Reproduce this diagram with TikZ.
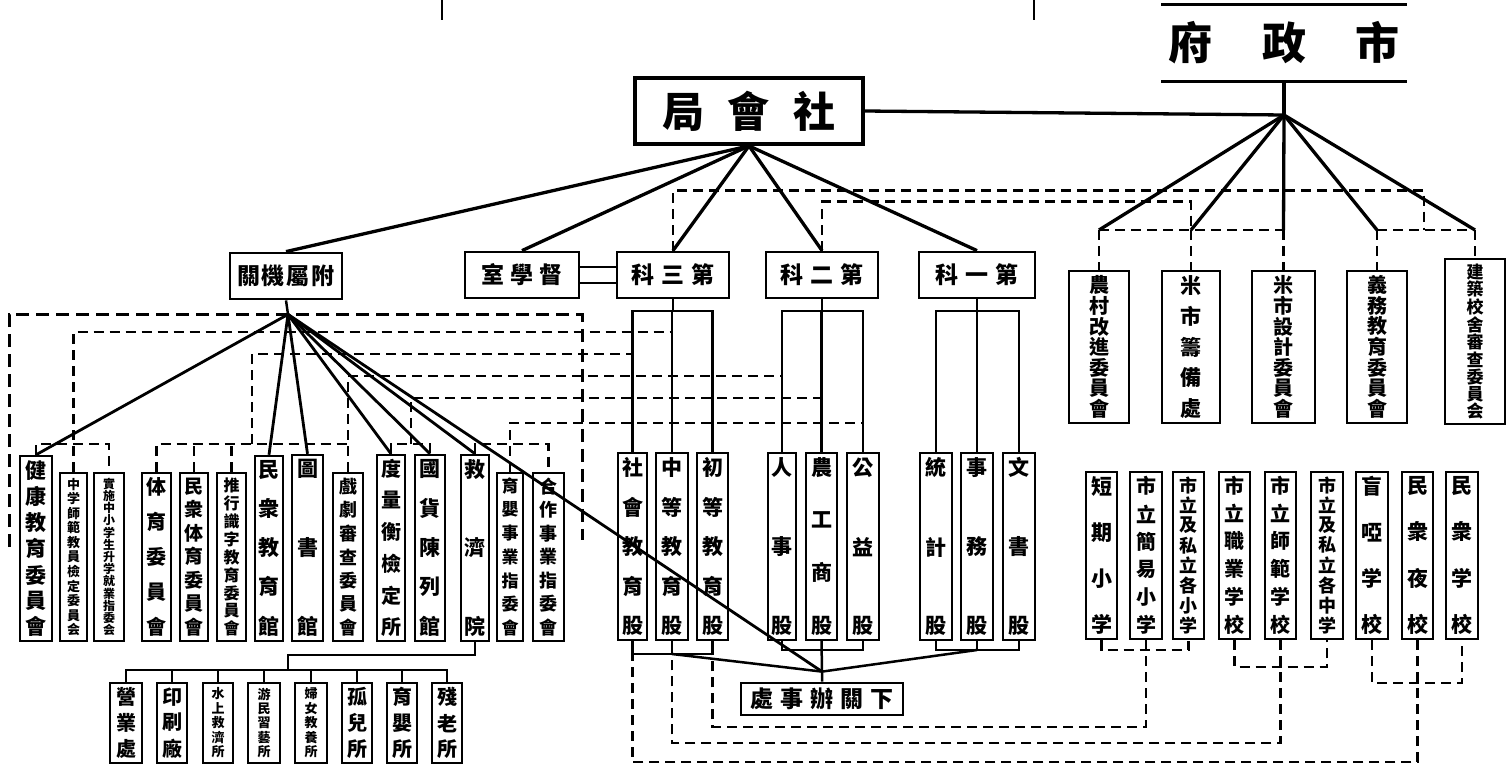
\documentclass[tikz,border=0pt]{standalone}
\usepackage{fontspec}
\setmainfont{Noto Sans CJK TC}
\ExplSyntaxOn
\seq_new:N \l_rk_seq
\NewDocumentCommand \vt { m m }
 {
  \seq_clear:N \l_rk_seq
  \tl_map_inline:nn {#2} { \seq_put_right:Nn \l_rk_seq { \hbox_to_wd:nn {0pt} { \hss ##1 \hss } } }
  \vbox_to_ht:nn {#1} { \offinterlineskip \seq_use:Nn \l_rk_seq { \vfill } }
 }
\NewDocumentCommand \rkspaced { m m }
 {
  \seq_clear:N \l_rk_seq
  \tl_map_inline:nn {#2} { \seq_put_right:Nn \l_rk_seq { ##1 } }
  \seq_use:Nn \l_rk_seq { \skip_horizontal:n {#1} }
 }
\ExplSyntaxOff
\tikzset{
 fan/.style={line width=3.3pt},
 fantwo/.style={line width=2.8pt},
 tree/.style={line width=2.5pt},
 thinline/.style={line width=1.8pt},
 dsh/.style={line width=2.3pt, dash pattern=on 10pt off 6pt},
 bdsh/.style={line width=3pt, dash pattern=on 13pt off 7pt},
 vb/.style={draw, line width=2.4pt, inner sep=0pt, font=\bfseries},
 hb/.style={draw, line width=2.8pt, inner sep=0pt, font=\bfseries},
}
\newcommand\vbx[7]{\node[vb, minimum width={(#4-#2)*1pt}, minimum height={(#5-#3)*1pt}] (#1) at ({(#2+#4)/2},{(#3+#5)/2}) {\fontsize{#6}{#6}\selectfont\vt{#5pt-#3pt-11pt}{#7}};}
\begin{document}
\begin{tikzpicture}[x=1pt,y=-1pt]
\fill[white] (0,0) rectangle (1509,771);
\useasboundingbox (0,0) rectangle (1509,771);

% ---- horizontal boxes
\node[hb, draw=none, minimum width=243pt, minimum height=74pt] (szf) at (1284,43) {\fontsize{44}{44}\selectfont\rkspaced{50pt}{府政市}};
\node[hb, line width=3.8pt, minimum width=228pt, minimum height=66pt] (shj) at (749,111) {\fontsize{42}{42}\selectfont\rkspaced{24pt}{局會社}};
\node[hb, minimum width=112pt, minimum height=46pt] (fs) at (286,276) {\fontsize{23}{23}\selectfont\rkspaced{2pt}{關機屬附}};
\node[hb, minimum width=114pt, minimum height=46pt] (dx) at (522,275) {\fontsize{23}{23}\selectfont\rkspaced{6pt}{室學督}};
\node[hb, minimum width=112pt, minimum height=46pt] (k3) at (673,275) {\fontsize{23}{23}\selectfont\rkspaced{7pt}{科三第}};
\node[hb, minimum width=112pt, minimum height=46pt] (k2) at (822,275) {\fontsize{23}{23}\selectfont\rkspaced{7pt}{科二第}};
\node[hb, minimum width=116pt, minimum height=46pt] (k1) at (977,275) {\fontsize{23}{23}\selectfont\rkspaced{7pt}{科一第}};
\node[hb, minimum width=162pt, minimum height=32pt] (xg) at (822,699) {\fontsize{23}{23}\selectfont\rkspaced{7pt}{處事辦關下}};

% ---- city government boxes
\vbx{r1}{1069}{271}{1129}{423}{20}{農村改進委員會}
\vbx{r2}{1162}{271}{1220}{423}{21}{米市籌備處}
\vbx{r3}{1252}{271}{1315}{423}{20}{米市設計委員會}
\vbx{r4}{1347}{271}{1407}{423}{20}{義務教育委員會}
\vbx{r5}{1445}{259}{1505}{424}{17}{建築校舍審查委員会}

% ---- schools
\vbx{s1}{1086}{472}{1117}{639}{21}{短期小学}
\vbx{s2}{1130}{472}{1162}{639}{20}{市立簡易小学}
\vbx{s3}{1173}{472}{1204}{639}{18}{市立及私立各小学}
\vbx{s4}{1219}{472}{1250}{639}{20}{市立職業学校}
\vbx{s5}{1265}{472}{1296}{639}{20}{市立師範学校}
\vbx{s6}{1311}{472}{1343}{639}{18}{市立及私立各中学}
\vbx{s7}{1356}{472}{1388}{639}{21}{盲啞学校}
\vbx{s8}{1402}{472}{1433}{639}{21}{民衆夜校}
\vbx{s9}{1446}{472}{1478}{639}{21}{民衆学校}

% ---- sections
\vbx{g1}{618}{453}{647}{640}{21}{社會教育股}
\vbx{g2}{656}{453}{688}{640}{21}{中等教育股}
\vbx{g3}{697}{453}{728}{640}{21}{初等教育股}
\vbx{g4}{768}{453}{796}{640}{21}{人事股}
\vbx{g5}{806}{453}{837}{640}{21}{農工商股}
\vbx{g6}{847}{453}{879}{640}{21}{公益股}
\vbx{g7}{920}{453}{952}{640}{21}{統計股}
\vbx{g8}{961}{453}{993}{640}{21}{事務股}
\vbx{g9}{1003}{453}{1035}{640}{21}{文書股}

% ---- affiliated agencies
\vbx{a1}{20}{456}{52}{641}{21}{健康教育委員會}
\vbx{a2}{60}{473}{87}{641}{13}{中学師範教員檢定委員会}
\vbx{a3}{94}{473}{124}{641}{12}{實施中小学生升学就業指委会}
\vbx{a4}{142}{473}{171}{641}{20}{体育委員會}
\vbx{a5}{180}{473}{208}{641}{19}{民衆体育委員會}
\vbx{a6}{217}{473}{246}{641}{16}{推行識字教育委員會}
\vbx{a7}{255}{456}{283}{641}{21}{民衆教育館}
\vbx{a8}{292}{455}{323}{641}{21}{圖書館}
\vbx{a9}{333}{473}{363}{641}{18}{戲劇審查委員會}
\vbx{a10}{377}{455}{405}{641}{20}{度量衡檢定所}
\vbx{a11}{415}{455}{445}{641}{21}{國貨陳列館}
\vbx{a12}{461}{455}{489}{641}{21}{救濟院}
\vbx{a13}{497}{473}{523}{641}{17}{育嬰事業指委會}
\vbx{a14}{533}{473}{564}{641}{18}{合作事業指委會}

% ---- relief institutions
\vbx{e1}{110}{683}{142}{763}{20}{營業處}
\vbx{e2}{157}{683}{187}{763}{20}{印刷廠}
\vbx{e3}{203}{683}{233}{763}{13}{水上救濟所}
\vbx{e4}{248}{683}{280}{763}{13}{游民習藝所}
\vbx{e5}{295}{683}{327}{763}{13}{婦女教養所}
\vbx{e6}{342}{683}{372}{763}{20}{孤兒所}
\vbx{e7}{387}{683}{417}{763}{20}{育嬰所}
\vbx{e8}{432}{683}{462}{763}{20}{殘老所}

% ---- coordinates
\coordinate (hubA) at (1284,115);
\path (fs.south) ++(2,14) coordinate (hubD);
\path (xg.north) ++(0,-10) coordinate (hubC);
\coordinate (barR) at (0,230);
\coordinate (jR) at (1424,230);
\coordinate (b3) at (0,311);
\coordinate (bb3) at (0,654);
\coordinate (bb2) at (0,650);
\coordinate (sb1) at (0,650);
\coordinate (sb2) at (0,667);
\coordinate (sb3) at (0,683);
\coordinate (L1) at (0,727);
\coordinate (L2) at (0,743);
\coordinate (L3) at (0,762);
\coordinate (gb) at (0,444);
\coordinate (D1) at (0,332);
\coordinate (D2) at (0,354);
\coordinate (D3) at (0,376);
\coordinate (D4) at (0,398);
\coordinate (D5) at (0,423);
\coordinate (vB) at (252,444);
\coordinate (vC) at (411,444);
\coordinate (brL) at (9,547);
\coordinate (brR) at (582,540);
\coordinate (ej) at (288,655);
\coordinate (eb) at (0,670);
\coordinate (tpa) at (442,0);
\coordinate (tpb) at (442,20);
\coordinate (tpc) at (1034,0);
\coordinate (tpd) at (1034,20);

% ---- top stubs
\draw[tree,line width=2.8pt] (tpa) -- (tpb);
\draw[tree,line width=2.8pt] (tpc) -- (tpd);

% ---- city government
\draw[fan] (szf.north west) -- (szf.north east);
\draw[fan,line width=3.8pt] (szf.south west) -- (szf.south east);
\draw[fan] (szf.south) -- (hubA);
\draw[fan] (shj.east) -- (hubA);
\foreach \r in {r1,r2,r3,r4,r5} \draw[fan] (hubA) -- (\r.north |- barR);
\draw[dsh] (r1.north |- barR) -- (r3.north |- barR);
\draw[dsh] (r4.north |- barR) -- (r5.north |- barR);
\foreach \r in {r1,r2,r3,r4,r5} \draw[dsh] (\r.north |- barR) -- (\r.north);
\draw[dsh] (k3.north) -- ++(0,-60) -| (jR);
\draw[dsh] (k2.north) -- ++(0,-49) -| (r2.north |- barR);

% ---- social bureau fan
\foreach \n in {fs,dx,k3,k2,k1} \draw[fan] (shj.south) -- (\n.north);
\draw[tree] ([yshift=8pt]dx.east) -- ([yshift=8pt]k3.west);
\draw[tree] ([yshift=-8pt]dx.east) -- ([yshift=-8pt]k3.west);

% ---- section trees
\draw[tree] (k3.south) -- (k3.south |- b3);
\draw[tree] (g1.north) -- (g1.north |- b3) -- (g3.north |- b3) -- (g3.north);
\draw[tree] (g2.north) -- (g2.north |- b3);
\draw[tree] (k2.south) -- (k2.south |- b3);
\draw[tree] (g4.north) -- (g4.north |- b3) -- (g6.north |- b3) -- (g6.north);
\draw[tree] (g5.north) -- (g5.north |- b3);
\draw[tree] (k1.south) -- (k1.south |- b3);
\draw[tree] (g7.north) -- (g7.north |- b3) -- (g9.north |- b3) -- (g9.north);
\draw[tree] (g8.north) -- (g8.north |- b3);

\draw[tree] (g1.south) -- (g1.south |- bb3) -- (g3.south |- bb3) -- (g3.south);
\draw[tree] (g2.south) -- (g2.south |- bb3);
\draw[tree] (g4.south) -- (g4.south |- bb2) -- (g6.south |- bb2) -- (g6.south);
\draw[tree] (g5.south) -- (hubC) -- (xg.north);
\draw[tree] (g7.south) -- (g7.south |- bb2) -- (g9.south |- bb2) -- (g9.south);
\draw[tree] (g8.south) -- (g8.south |- bb2);
\draw[tree] (g2.south |- bb3) -- (hubC);
\draw[tree] (g8.south |- bb2) -- (hubC);
\draw[fantwo] (hubD) -- (hubC);

% ---- schools to sections
\draw[dsh] (s1.south) -- (s1.south |- sb1) -- (s3.south |- sb1) -- (s3.south);
\draw[dsh] (s2.south) -- (s2.south |- L1) -| (g3.south);
\draw[dsh] (s4.south) -- (s4.south |- sb2) -- (s6.south |- sb2) -- (s6.south);
\draw[dsh] (s5.south) -- (s5.south |- L2) -| (g2.south);
\draw[dsh] (s7.south) -- (s7.south |- sb3) -- (s9.south |- sb3) -- (s9.south);
\draw[dsh] (s8.south) -- (s8.south |- L3) -| (g1.south);

% ---- affiliated agencies
\draw[tree] (fs.south) -- (hubD);
\draw[bdsh] (brL) |- (hubD) -| (brR);
\foreach \n in {a1,a7,a8,a10,a11,a12} \draw[fantwo] (hubD) -- (\n.north);

\draw[dsh] (a1.north) -- (a1.north |- gb) -- (a3.north |- gb) -- (a3.north);
\draw[dsh] (a2.north) |- (g2.north |- D1);
\draw[dsh] (a4.north) -- (a4.north |- gb) -- (a9.north |- gb);
\draw[dsh] (a5.north) -- (a5.north |- gb);
\draw[dsh] (a6.north) -- (a6.north |- gb);
\draw[dsh] (vB) |- (g1.north |- D2);
\draw[dsh] (a9.north) |- (g4.north |- D3);
\draw[dsh] (a10.north) -- (a10.north |- gb) -- (a11.north |- gb) -- (a11.north);
\draw[dsh] (vC) |- (g5.north |- D4);
\draw[dsh] (a12.north) -- (a12.north |- gb) -- (a14.north |- gb) -- (a14.north);
\draw[dsh] (a13.north) |- (g6.north |- D5);

% ---- relief institutions tree
\draw[thinline] (a12.south) |- (ej) -- (ej |- eb);
\draw[thinline] (e1.north) -- (e1.north |- eb) -- (e8.north |- eb) -- (e8.north);
\foreach \n in {e2,e3,e4,e5,e6,e7} \draw[thinline] (\n.north) -- (\n.north |- eb);
\end{tikzpicture}
\end{document}
